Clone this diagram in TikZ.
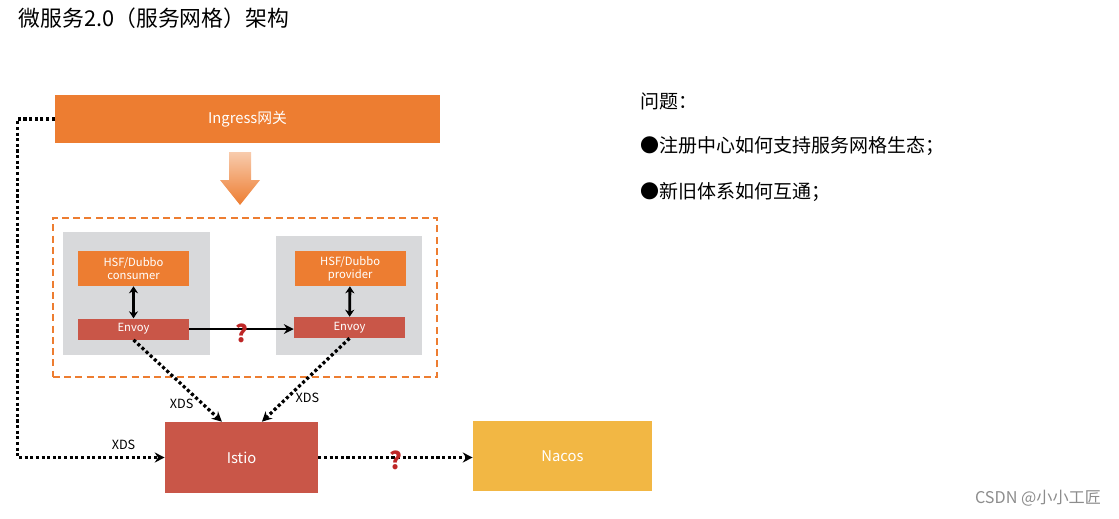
\documentclass[tikz,border=0pt]{standalone}
\usepackage{fontspec}
\setmainfont{Noto Sans CJK SC}
\usepackage{xcolor}
\usetikzlibrary{arrows.meta, positioning}
\definecolor{meshorange}{RGB}{237,125,49}
\definecolor{meshred}{RGB}{201,86,72}
\definecolor{meshgray}{RGB}{216,217,219}
\definecolor{nacosyellow}{RGB}{242,183,68}
\definecolor{qred}{RGB}{190,38,38}

\begin{document}
\begin{tikzpicture}[
    x=0.025cm, y=-0.025cm,
    box/.style={rectangle, inner sep=0pt, align=center, text=white},
    arr/.style={-{Stealth[length=7pt,width=7pt]}, line width=2pt},
    dbl/.style={{Stealth[length=5pt,width=6.5pt]}-{Stealth[length=5pt,width=6.5pt]}, line width=2pt},
    xds/.style={-{Stealth[length=7pt,width=7pt]}, line width=2.3pt, dash pattern=on 2.2pt off 1.8pt},
    qmark/.style={text=qred, font=\fontsize{17}{17}\selectfont\bfseries},
    lbl/.style={font=\fontsize{9}{10}\selectfont},
]
\useasboundingbox (0,0) rectangle (1119,519);

% Title and notes
\node[anchor=west, font=\fontsize{15.5}{18}\selectfont] (title) at (14,18)
      {微服务2.0（服务网格）架构};
\node[anchor=west, font=\fontsize{13.5}{16}\selectfont] (q0) at (636,101) {问题：};
\node[anchor=west, font=\fontsize{13.5}{16}\selectfont] (q1) at (636,146)
      {●注册中心如何支持服务网格生态；};
\node[anchor=west, font=\fontsize{13.5}{16}\selectfont] (q2) at (636,192)
      {●新旧体系如何互通；};

% Gateway
\node[box, fill=meshorange, minimum width=9.625cm, minimum height=1.2cm,
      font=\fontsize{10.5}{12}\selectfont] (ingress) at (247.5,119) {Ingress网关};
\shade[top color=meshorange!40, bottom color=meshorange]
      (229,152) -- (251,152) -- (251,180) -- (260,180) -- (240,205)
      -- (220,180) -- (229,180) -- cycle;

% Mesh
\node[rectangle, draw=meshorange, line width=1.2pt, dash pattern=on 5pt off 3pt,
      minimum width=9.6cm, minimum height=3.975cm] (mesh) at (245,297.5) {};
\node[rectangle, fill=meshgray, minimum width=3.675cm, minimum height=3.075cm]
      (grayL) at (136.5,293.5) {};
\node[rectangle, fill=meshgray, minimum width=3.65cm, minimum height=2.975cm]
      (grayR) at (349,295.5) {};

\node[box, fill=meshorange, minimum width=2.775cm, minimum height=0.875cm,
      font=\fontsize{8}{9}\selectfont] (consumer) at (133.5,268.5) {HSF/Dubbo\\consumer};
\node[box, fill=meshred, minimum width=2.775cm, minimum height=0.525cm,
      font=\fontsize{8}{9}\selectfont, below=0.8cm of consumer] (envoyL) {Envoy};
\node[box, fill=meshorange, minimum width=2.775cm, minimum height=0.875cm,
      font=\fontsize{8}{9}\selectfont, right=2.625cm of consumer] (provider) {HSF/Dubbo\\provider};
\node[box, fill=meshred, minimum width=2.775cm, minimum height=0.525cm,
      font=\fontsize{8}{9}\selectfont] (envoyR) at (349.5,327.5) {Envoy};

% Control plane and registry
\node[box, fill=meshred, minimum width=3.825cm, minimum height=1.775cm,
      font=\fontsize{10.5}{12}\selectfont] (istio) at (241.5,457.5) {Istio};
\node[box, fill=nacosyellow, minimum width=4.475cm, minimum height=1.75cm,
      font=\fontsize{10.5}{12}\selectfont] (nacos) at (562.5,456) {Nacos};

% Arrows
\draw[dbl] (consumer) -- (envoyL);
\draw[dbl] (provider) -- (envoyR);
\draw[arr] (envoyL.east) -- node[qmark, below=-8pt] (q3) {?} (envoyR.west |- envoyL.east);
\draw[xds] (envoyL.south) -- node[lbl, pos=0.78, left=2pt] (x1) {XDS}
      ([xshift=-0.49cm]istio.north);
\draw[xds] (envoyR.south) -- node[lbl, pos=0.72, right=2pt] (x2) {XDS}
      ([xshift=0.51cm]istio.north);
\draw[xds] (ingress.west) -- ++(-37,0) |- node[lbl, pos=0.86, above=1pt] (x3) {XDS}
      (istio.west);
\draw[xds] (istio.east) -- node[qmark, below=-9pt] (q4) {?} (istio.east -| nacos.west);

% Watermark
\node[anchor=east, text=black!45, font=\fontsize{11.5}{13}\selectfont] (mark) at (1106,498)
      {CSDN @小小工匠};
\end{tikzpicture}
\end{document}
